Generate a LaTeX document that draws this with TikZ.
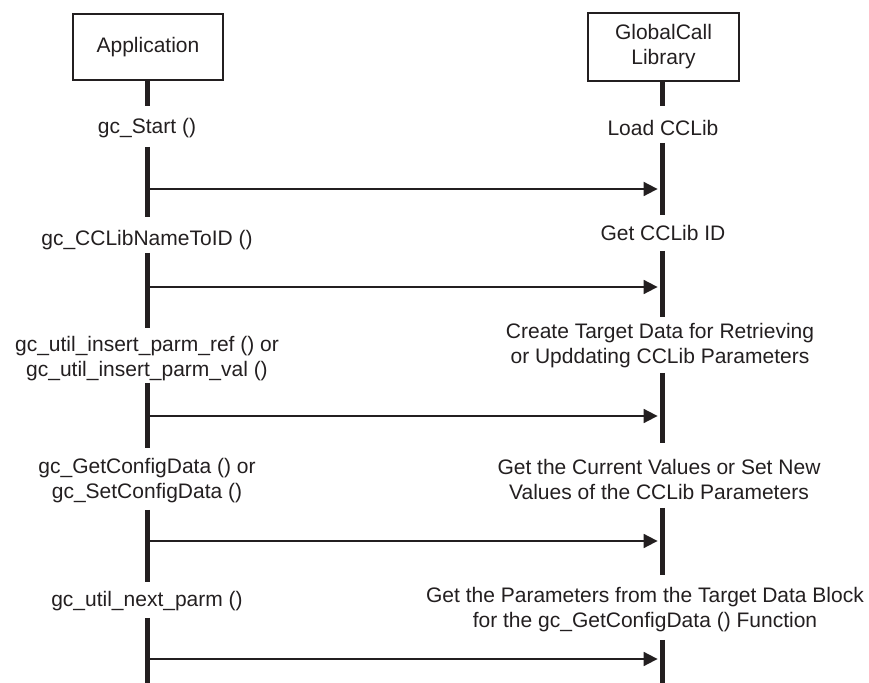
\documentclass[tikz,border=0pt]{standalone}
\usepackage{fontspec}
\setmainfont{Liberation Sans}
\usetikzlibrary{arrows.meta}
\definecolor{ink}{HTML}{231F20}
\tikzset{
  actor/.style={draw=ink, line width=1pt, minimum width=75pt, minimum height=33pt, inner sep=0pt, align=center, text=ink, font=\fontsize{10.5}{12.5}\selectfont},
  lbl/.style={align=center, inner sep=0pt, text=ink, font=\fontsize{10.5}{12.5}\selectfont},
  life/.style={draw=ink, line width=2.5pt},
  msg/.style={draw=ink, line width=0.9pt, -{Triangle[length=7pt,width=7pt]}, shorten >=1.2pt}
}
\begin{document}
\begin{tikzpicture}[x=0.5pt,y=-0.5pt]
\useasboundingbox (0,0) rectangle (869,683);
% actors
\node[actor] (app) at (148,47) {Application};
\node[actor, minimum width=75.5pt, minimum height=34pt] (gcl) at (663.5,47) {GlobalCall\\Library};
% left labels
\node[lbl] (l1) at (147,128.5) {gc\_Start ()};
\node[lbl] (l2) at (147,240.5) {gc\_CCLibNameToID ()};
\node[lbl] (l3) at (147,359) {gc\_util\_insert\_parm\_ref () or\\gc\_util\_insert\_parm\_val ()};
\node[lbl] (l4) at (147,481) {gc\_GetConfigData () or\\gc\_SetConfigData ()};
\node[lbl] (l5) at (147,601.5) {gc\_util\_next\_parm ()};
% right labels
\node[lbl] (r1) at (663,128.5) {Load CCLib};
\node[lbl] (r2) at (663,233.5) {Get CCLib ID};
\node[lbl] (r3) at (660,346) {Create Target Data for Retrieving\\or Upddating CCLib Parameters};
\node[lbl] (r4) at (659,479.5) {Get the Current Values or Set New\\Values of the CCLib Parameters};
\node[lbl] (r5) at (645,610) {Get the Parameters from the Target Data Block\\for the gc\_GetConfigData () Function};
% lifeline segment ends
\foreach \n/\a/\b in {a/80/106, b/147/217, c/253/328, d/383/448, e/510/582, f/618/683}{
  \coordinate (L\n1) at (147.5,\a);
  \coordinate (L\n2) at (147.5,\b);
  \draw[life] (L\n1) -- (L\n2);
}
\foreach \n/\a/\b in {a/81/106, b/143/215, c/251/317, d/373/443, e/508/575, f/640/683}{
  \coordinate (R\n1) at (662.5,\a);
  \coordinate (R\n2) at (662.5,\b);
  \draw[life] (R\n1) -- (R\n2);
}
% messages
\foreach \i/\y in {1/189, 2/287, 3/416, 4/541, 5/659}{
  \coordinate (ms\i) at (147.5,\y);
  \coordinate (mt\i) at (662.5,\y);
  \draw[msg] (ms\i) -- ([xshift=-1.25pt]mt\i);
}
\end{tikzpicture}
\end{document}
